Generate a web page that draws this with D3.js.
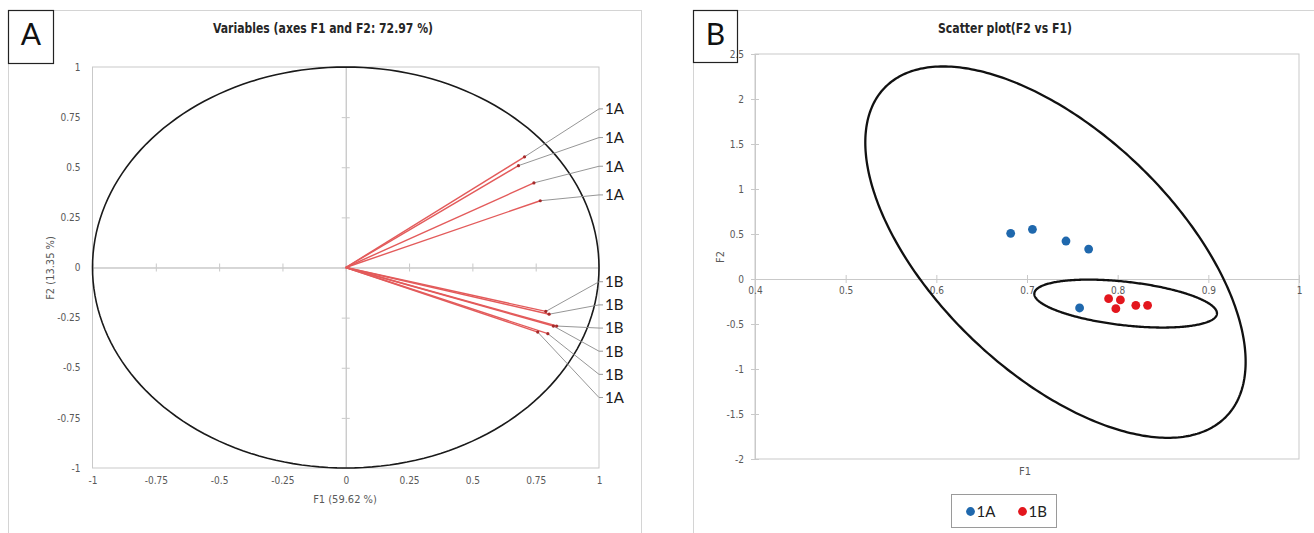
<!DOCTYPE html>
<html>
<head>
<meta charset="utf-8">
<script src="https://cdn.jsdelivr.net/npm/d3@7"></script>
<style>
  html, body { margin: 0; padding: 0; background: #fff; }
  svg { display: block; }
  .narrow { font-family: 'Liberation Sans Narrow', 'Arial Narrow', 'DejaVu Sans Condensed', sans-serif; }
  .tick text { fill: #595959; }
</style>
</head>
<body>
<svg id="chart" width="1314" height="533"></svg>
<script>
// Factor scores of the ten samples on the first two principal components
const categories = ["1A", "1B"];
const f1_1A = [0.706, 0.682, 0.743, 0.768, 0.758];
const f2_1A = [0.552, 0.508, 0.422, 0.333, -0.322];
const f1_1B = [0.790, 0.803, 0.820, 0.833, 0.798];
const f2_1B = [-0.219, -0.233, -0.292, -0.292, -0.330];

// Axis ticks
const ticksCircle = [-1, -0.75, -0.5, -0.25, 0, 0.25, 0.5, 0.75, 1];
const ticksScatterX = [0.4, 0.5, 0.6, 0.7, 0.8, 0.9, 1];
const ticksScatterY = [-2, -1.5, -1, -0.5, 0, 0.5, 1, 1.5, 2, 2.5];

// Texts
const titleA = "Variables (axes F1 and F2: 72.97 %)";
const titleB = "Scatter plot(F2 vs F1)";
const axisF1A = "F1 (59.62 %)";
const axisF2A = "F2 (13.35 %)";

const colors = { "1A": "#1f68ad", "1B": "#e3161d" };
const ellipseK = 5.78;   // radius of the concentration ellipses, in standard deviations

const svg = d3.select("#chart");
const gridColor = "#c9c9c9";

const groups = categories.map((c, gi) => {
  const xs = gi === 0 ? f1_1A : f1_1B;
  const ys = gi === 0 ? f2_1A : f2_1B;
  return { name: c, xs, ys, pts: xs.map((x, i) => ({ cat: c, f1: x, f2: ys[i] })) };
});
const allPts = groups.flatMap(g => g.pts);

// ---------- panel frames ----------
svg.append("rect").attr("x", 8.5).attr("y", 10.5).attr("width", 633).attr("height", 540)
  .attr("fill", "none").attr("stroke", "#d4d4d4");
svg.append("rect").attr("x", 693.5).attr("y", 10.5).attr("width", 640).attr("height", 540)
  .attr("fill", "none").attr("stroke", "#d4d4d4");

function panelTag(x, y, w, h, letter) {
  svg.append("rect").attr("x", x + 0.5).attr("y", y + 0.5).attr("width", w).attr("height", h)
    .attr("fill", "none").attr("stroke", "#222").attr("stroke-width", 1.2);
  svg.append("text").attr("x", x + w / 2 + 0.5).attr("y", y + 35)
    .attr("text-anchor", "middle").attr("font-family", "Lato, 'Open Sans', sans-serif")
    .attr("font-size", 30).attr("fill", "#111").text(letter);
}

// ================= Panel A : correlation circle =================
const xA = d3.scaleLinear().domain([-1, 1]).range([92.5, 599]);
const yA = d3.scaleLinear().domain([-1, 1]).range([468, 67]);
const gA = svg.append("g");

gA.append("rect").attr("x", xA(-1)).attr("y", yA(1))
  .attr("width", xA(1) - xA(-1)).attr("height", yA(-1) - yA(1))
  .attr("fill", "none").attr("stroke", gridColor);

// zero lines with crossing ticks
function crossAxis(g, axisA, axisB, transform) {
  [axisA, axisB].forEach(ax => {
    const a = g.append("g").attr("transform", transform).call(ax);
    a.selectAll("path.domain").attr("stroke", gridColor);
    a.selectAll(".tick line").attr("stroke", gridColor);
    a.selectAll(".tick text").remove();
  });
}
crossAxis(gA,
  d3.axisLeft(yA).tickValues(ticksCircle).tickSizeInner(4).tickSizeOuter(0),
  d3.axisRight(yA).tickValues(ticksCircle).tickSizeInner(4).tickSizeOuter(0),
  `translate(${xA(0)},0)`);
crossAxis(gA,
  d3.axisTop(xA).tickValues(ticksCircle).tickSizeInner(4).tickSizeOuter(0),
  d3.axisBottom(xA).tickValues(ticksCircle).tickSizeInner(4).tickSizeOuter(0),
  `translate(0,${yA(0)})`);

// tick labels along the plot border
const yLabA = gA.append("g").attr("class", "narrow").attr("transform", `translate(${xA(-1)},0)`)
  .call(d3.axisLeft(yA).tickValues(ticksCircle).tickFormat(String).tickSize(0).tickPadding(12));
const xLabA = gA.append("g").attr("class", "narrow").attr("transform", `translate(0,${yA(-1)})`)
  .call(d3.axisBottom(xA).tickValues(ticksCircle).tickFormat(String).tickSize(0).tickPadding(9));
[yLabA, xLabA].forEach(a => { a.select(".domain").remove(); a.selectAll("text").attr("font-size", 10).attr("font-family", null); });

// unit circle
const circlePts = d3.range(0, 361, 2).map(a => [Math.cos(a * Math.PI / 180), Math.sin(a * Math.PI / 180)]);
gA.append("path")
  .attr("d", d3.line().x(d => xA(d[0])).y(d => yA(d[1])).curve(d3.curveLinearClosed)(circlePts))
  .attr("fill", "none").attr("stroke", "#1a1a1a").attr("stroke-width", 1.6);

// vector labels: stacked at the right border, upper and lower groups
const byAngle = (a, b) => Math.atan2(b.f2, b.f1) - Math.atan2(a.f2, a.f1);
const upper = allPts.filter(p => p.f2 >= 0).sort(byAngle);
const lower = allPts.filter(p => p.f2 < 0).sort(byAngle);
const upperBase = 0.362, upperStep = 0.143;
const lowerBase = -0.071, lowerStep = 0.1155;
upper.forEach((p, i) => { p.ly = upperBase + (upper.length - 1 - i) * upperStep; });
lower.forEach((p, i) => { p.ly = lowerBase - i * lowerStep; });
const labelled = upper.concat(lower);

// leader lines
gA.append("g").selectAll("polyline").data(labelled).join("polyline")
  .attr("points", p => [[xA(p.f1), yA(p.f2)], [xA(1), yA(p.ly)], [xA(1) + 4, yA(p.ly)]].join(" "))
  .attr("fill", "none").attr("stroke", "#8a8a8a").attr("stroke-width", 0.9);

// vectors
gA.append("g").selectAll("line").data(allPts).join("line")
  .attr("x1", xA(0)).attr("y1", yA(0))
  .attr("x2", p => xA(p.f1)).attr("y2", p => yA(p.f2))
  .attr("stroke", "#e35b5b").attr("stroke-width", 1.4);
gA.append("g").selectAll("circle").data(allPts).join("circle")
  .attr("cx", p => xA(p.f1)).attr("cy", p => yA(p.f2)).attr("r", 1.6)
  .attr("fill", "#a52a2a");

gA.append("g").selectAll("text").data(labelled).join("text")
  .attr("x", xA(1) + 6).attr("y", p => yA(p.ly)).attr("dy", "0.36em")
  .attr("font-family", "Lato, 'Open Sans', sans-serif").attr("font-size", 15).attr("fill", "#1a1a1a")
  .text(p => p.cat);

// titles
gA.append("text").attr("class", "narrow").attr("x", 323).attr("y", 33)
  .attr("text-anchor", "middle").attr("font-size", 14).attr("font-weight", "bold").attr("fill", "#262626")
  .attr("textLength", 220).attr("lengthAdjust", "spacingAndGlyphs").text(titleA);
gA.append("text").attr("class", "narrow").attr("x", 345).attr("y", 503)
  .attr("text-anchor", "middle").attr("font-size", 11).attr("fill", "#595959").text(axisF1A);
gA.append("text").attr("class", "narrow").attr("transform", "translate(54,268) rotate(-90)")
  .attr("text-anchor", "middle").attr("font-size", 11).attr("fill", "#595959").text(axisF2A);

panelTag(8, 10, 45, 53, "A");

// ================= Panel B : scatter plot =================
const xB = d3.scaleLinear().domain([0.4, 1]).range([755, 1299]);
const yB = d3.scaleLinear().domain([-2, 2.5]).range([459, 54]);
const gB = svg.append("g");

panelTag(693, 10, 44, 52, "B");

gB.append("rect").attr("x", xB(0.4)).attr("y", yB(2.5))
  .attr("width", xB(1) - xB(0.4)).attr("height", yB(-2) - yB(2.5))
  .attr("fill", "none").attr("stroke", gridColor);

crossAxis(gB,
  d3.axisLeft(yB).tickValues(ticksScatterY).tickSizeInner(4).tickSizeOuter(0),
  d3.axisRight(yB).tickValues(ticksScatterY).tickSizeInner(4).tickSizeOuter(0),
  `translate(${xB(0.4)},0)`);
crossAxis(gB,
  d3.axisTop(xB).tickValues(ticksScatterX).tickSizeInner(4).tickSizeOuter(0),
  d3.axisBottom(xB).tickValues(ticksScatterX).tickSizeInner(4).tickSizeOuter(0),
  `translate(0,${yB(0)})`);

const yLabB = gB.append("g").attr("class", "narrow").attr("transform", `translate(${xB(0.4)},0)`)
  .call(d3.axisLeft(yB).tickValues(ticksScatterY).tickFormat(String).tickSize(0).tickPadding(11));
const xLabB = gB.append("g").attr("class", "narrow").attr("transform", `translate(0,${yB(0)})`)
  .call(d3.axisBottom(xB).tickValues(ticksScatterX).tickFormat(String).tickSize(0).tickPadding(8));
[yLabB, xLabB].forEach(a => { a.select(".domain").remove(); a.selectAll("text").attr("font-size", 10).attr("font-family", null); });

// concentration ellipses from each group's mean and sample covariance
function ellipse(xs, ys) {
  const n = xs.length, mx = d3.mean(xs), my = d3.mean(ys);
  let sxx = 0, syy = 0, sxy = 0;
  xs.forEach((x, i) => { sxx += (x - mx) ** 2; syy += (ys[i] - my) ** 2; sxy += (x - mx) * (ys[i] - my); });
  sxx /= n - 1; syy /= n - 1; sxy /= n - 1;
  const a = sxy / Math.sqrt(syy), b = Math.sqrt(sxx - sxy * sxy / syy), c = Math.sqrt(syy);
  return d3.range(0, 360, 1).map(deg => {
    const t = deg * Math.PI / 180;
    return [mx + ellipseK * (a * Math.cos(t) + b * Math.sin(t)), my + ellipseK * c * Math.cos(t)];
  });
}
groups.forEach(g => {
  gB.append("path")
    .attr("d", d3.line().x(d => xB(d[0])).y(d => yB(d[1])).curve(d3.curveLinearClosed)(ellipse(g.xs, g.ys)))
    .attr("fill", "none").attr("stroke", "#111").attr("stroke-width", 2.3);
});

gB.append("g").selectAll("circle").data(allPts).join("circle")
  .attr("cx", p => xB(p.f1)).attr("cy", p => yB(p.f2)).attr("r", 4.4)
  .attr("fill", p => colors[p.cat]);

gB.append("text").attr("class", "narrow").attr("x", 1005).attr("y", 33)
  .attr("text-anchor", "middle").attr("font-size", 14).attr("font-weight", "bold").attr("fill", "#262626")
  .attr("textLength", 134).attr("lengthAdjust", "spacingAndGlyphs").text(titleB);
gB.append("text").attr("class", "narrow").attr("x", 1025).attr("y", 475)
  .attr("text-anchor", "middle").attr("font-size", 11).attr("fill", "#595959").text("F1");
gB.append("text").attr("class", "narrow").attr("transform", "translate(724,257) rotate(-90)")
  .attr("text-anchor", "middle").attr("font-size", 11).attr("fill", "#595959").text("F2");

// legend
const lg = gB.append("g").attr("transform", "translate(951.5,494.5)");
lg.append("rect").attr("width", 105).attr("height", 33).attr("fill", "#fff").attr("stroke", "#9a9a9a");
categories.forEach((c, i) => {
  const item = lg.append("g").attr("transform", `translate(${19 + i * 52},17)`);
  item.append("circle").attr("r", 4.4).attr("fill", colors[c]);
  item.append("text").attr("x", 6).attr("dy", "0.36em")
    .attr("font-family", "Lato, 'Open Sans', sans-serif").attr("font-size", 15).attr("fill", "#222").text(c);
});
</script>
</body>
</html>
